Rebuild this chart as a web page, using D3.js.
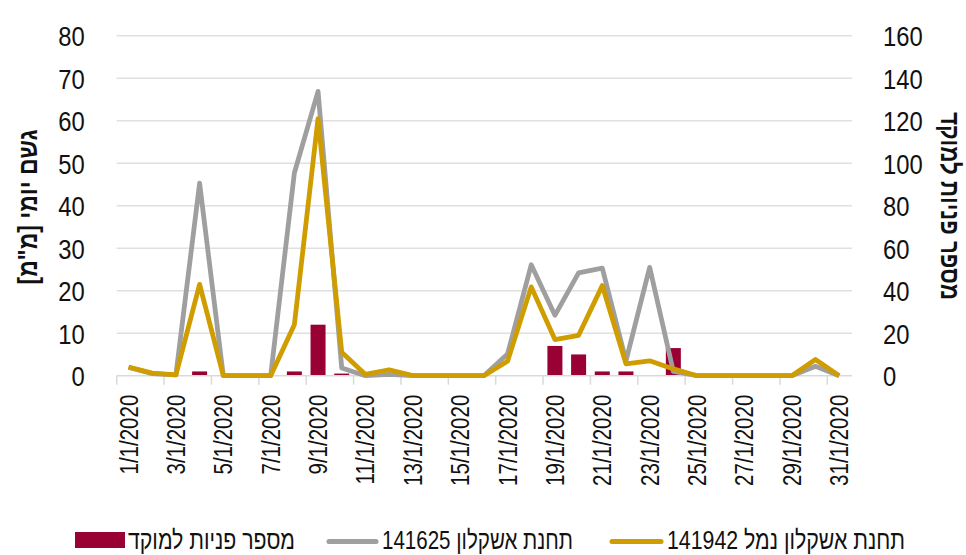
<!DOCTYPE html>
<html>
<head>
<meta charset="utf-8">
<title>rain vs calls</title>
<script src="https://d3js.org/d3.v7.min.js"></script>
<style>
    body { margin: 0; background: #fff; }
    svg text { font-family: "Liberation Sans", Arial, sans-serif; fill: #111; }
</style>
</head>
<body>
<svg class="chart" width="966" height="555"></svg>
<script>
// dates (categories)
var dates = ["1/1/2020","2/1/2020","3/1/2020","4/1/2020","5/1/2020","6/1/2020","7/1/2020","8/1/2020",
    "9/1/2020","10/1/2020","11/1/2020","12/1/2020","13/1/2020","14/1/2020","15/1/2020","16/1/2020",
    "17/1/2020","18/1/2020","19/1/2020","20/1/2020","21/1/2020","22/1/2020","23/1/2020","24/1/2020",
    "25/1/2020","26/1/2020","27/1/2020","28/1/2020","29/1/2020","30/1/2020","31/1/2020"];

// number of calls to the hotline (right axis)
var calls = [0,0,0,2,0,0,0,2,24,1,0,0,0,0,0,0,0,0,14,10,2,2,0,13,0,0,0,0,0,0,0];

// daily rain, mm (left axis)
var station141625 = [2,0.5,0.2,45.3,0,0,0,47.7,66.9,1.8,0,0.3,0,0,0,0,5.1,26.1,14.2,24.2,25.3,3.5,25.5,1,0,0,0,0,0,2.2,0];
var station141942 = [2,0.6,0.2,21.5,0,0,0,12,60.5,5.5,0.3,1.4,0,0,0,0,3.4,20.9,8.5,9.5,21.2,2.8,3.5,1.6,0,0,0,0,0,3.8,0];

var rainTicks = [0,10,20,30,40,50,60,70,80];
var callTicks = [0,20,40,60,80,100,120,140,160];

var labels = {
    left: "גשם יומי [מ\"מ]",
    right: "מספר פניות למוקד",
    calls: "מספר פניות למוקד",
    s1: "תחנת אשקלון 141625",
    s2: "תחנת אשקלון נמל 141942"
};

var colors = { calls: "#990033", s1: "#9f9f9f", s2: "#cf9d00", grid: "#e0e0e0" };

var plotL = 116.7, plotR = 851, plotT = 35.7, plotB = 375.7;

var svg = d3.select(".chart");

// squeeze text horizontally, the original font is a condensed one
function condense(sel, k) {
    sel.each(function() {
        var w = this.getComputedTextLength();
        d3.select(this).attr("textLength", w * k).attr("lengthAdjust", "spacingAndGlyphs");
    });
}

var x = d3.scaleBand().domain(dates).range([plotL, plotR]);
var yRain = d3.scaleLinear().domain([0, 80]).range([plotB, plotT]);
var yCalls = d3.scaleLinear().domain([0, 160]).range([plotB, plotT]);

// gridlines
svg.append("g").selectAll("line")
    .data(rainTicks.slice(1))
    .enter().append("line")
    .attr("x1", plotL).attr("x2", plotR + 1)
    .attr("y1", d => yRain(d)).attr("y2", d => yRain(d))
    .attr("stroke", colors.grid).attr("stroke-width", 1.5);

// left axis
var leftAxis = svg.append("g")
    .attr("transform", "translate(" + plotL + ",0)")
    .call(d3.axisLeft(yRain).tickValues(rainTicks).tickSize(0).tickPadding(32));
leftAxis.select(".domain").remove();
leftAxis.selectAll("text").style("font-size", "28px").attr("dy", "0.36em");
condense(leftAxis.selectAll("text"), 0.85);

// right axis
var rightAxis = svg.append("g")
    .attr("transform", "translate(" + plotR + ",0)")
    .call(d3.axisRight(yCalls).tickValues(callTicks).tickSize(0).tickPadding(32));
rightAxis.select(".domain").remove();
rightAxis.selectAll("text").style("font-size", "28px").attr("dy", "0.36em");
condense(rightAxis.selectAll("text"), 0.85);

// bars
var barW = 15;
svg.append("g").selectAll("rect")
    .data(calls)
    .enter().append("rect")
    .attr("x", (d, i) => x(dates[i]) + x.bandwidth() / 2 - barW / 2)
    .attr("y", d => yCalls(d))
    .attr("width", barW)
    .attr("height", d => plotB - yCalls(d))
    .attr("fill", colors.calls);

// x axis line and boundary ticks
svg.append("line")
    .attr("x1", plotL).attr("x2", plotR + 1)
    .attr("y1", plotB).attr("y2", plotB)
    .attr("stroke", "#d9d9d9").attr("stroke-width", 1.5);

svg.append("g").selectAll("line")
    .data(dates.filter((d, i) => i % 2 == 0))
    .enter().append("line")
    .attr("x1", d => x(d)).attr("x2", d => x(d))
    .attr("y1", plotB).attr("y2", plotB + 9)
    .attr("stroke", "#d9d9d9").attr("stroke-width", 1.5);

var xAxis = svg.append("g")
    .attr("transform", "translate(0," + plotB + ")")
    .call(d3.axisBottom(x).tickValues(dates.filter((d, i) => i % 2 == 0)).tickSize(0));
xAxis.select(".domain").remove();
xAxis.selectAll("text")
    .style("font-size", "25px")
    .style("text-anchor", "end")
    .attr("transform", "rotate(-90)")
    .attr("x", -19)
    .attr("y", 0)
    .attr("dy", "0.36em");
condense(xAxis.selectAll("text"), 0.82);

// lines
var line = d3.line()
    .x((d, i) => x(dates[i]) + x.bandwidth() / 2)
    .y(d => yRain(d));

svg.append("path")
    .datum(station141625)
    .attr("d", line)
    .attr("fill", "none")
    .attr("stroke", colors.s1)
    .attr("stroke-width", 4.8)
    .attr("stroke-linejoin", "round");

svg.append("path")
    .datum(station141942)
    .attr("d", line)
    .attr("fill", "none")
    .attr("stroke", colors.s2)
    .attr("stroke-width", 4.8)
    .attr("stroke-linejoin", "round");

// axis titles
svg.append("text")
    .attr("transform", "translate(27,207) rotate(-90)")
    .attr("direction", "rtl")
    .attr("text-anchor", "middle")
    .attr("dy", "0.36em")
    .attr("textLength", 155)
    .attr("lengthAdjust", "spacingAndGlyphs")
    .style("font-size", "27px")
    .style("font-weight", "bold")
    .text(labels.left);

svg.append("text")
    .attr("transform", "translate(951,206) rotate(90)")
    .attr("direction", "rtl")
    .attr("text-anchor", "middle")
    .attr("dy", "0.36em")
    .attr("textLength", 188)
    .attr("lengthAdjust", "spacingAndGlyphs")
    .style("font-size", "27px")
    .style("font-weight", "bold")
    .text(labels.right);

// legend
var legend = svg.append("g");
legend.append("rect")
    .attr("x", 75).attr("y", 532).attr("width", 50).attr("height", 16)
    .attr("fill", colors.calls);
legend.append("line")
    .attr("x1", 329).attr("x2", 376).attr("y1", 541.5).attr("y2", 541.5)
    .attr("stroke", colors.s1).attr("stroke-width", 5).attr("stroke-linecap", "round");
legend.append("line")
    .attr("x1", 612).attr("x2", 661).attr("y1", 541.5).attr("y2", 541.5)
    .attr("stroke", colors.s2).attr("stroke-width", 5).attr("stroke-linecap", "round");

var legendText = [
    { text: labels.calls, cx: 211.5, w: 167 },
    { text: labels.s1, cx: 477.5, w: 191 },
    { text: labels.s2, cx: 786, w: 238 }
];
legend.selectAll("text.lg")
    .data(legendText)
    .enter().append("text")
    .attr("class", "lg")
    .attr("x", d => d.cx)
    .attr("y", 549)
    .attr("direction", "rtl")
    .attr("text-anchor", "middle")
    .attr("textLength", d => d.w)
    .attr("lengthAdjust", "spacingAndGlyphs")
    .style("font-size", "26px")
    .text(d => d.text);
</script>
</body>
</html>
